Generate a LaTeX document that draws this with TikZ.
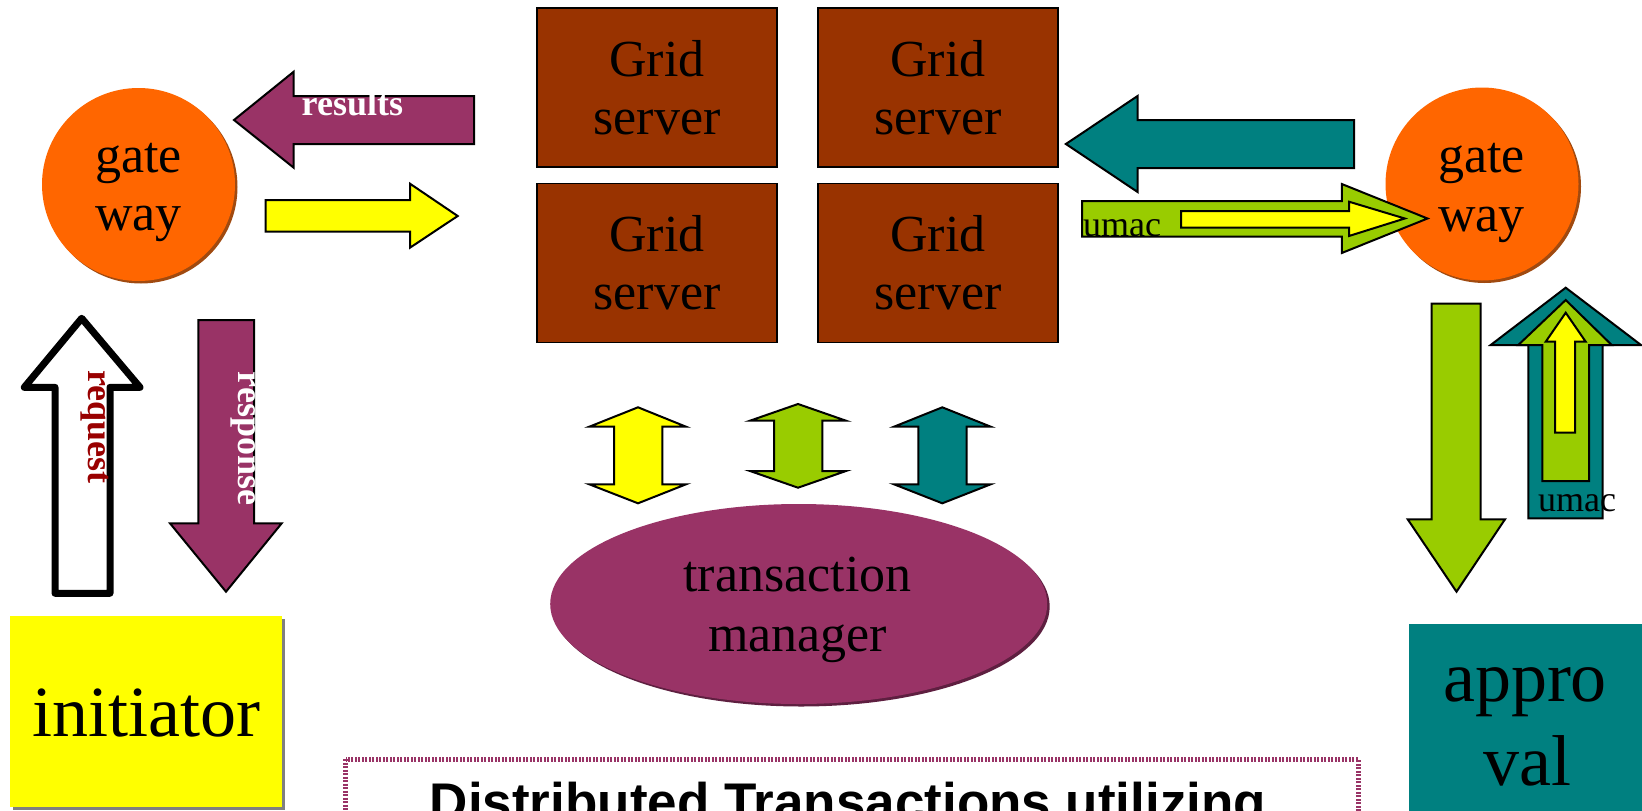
\documentclass[tikz,border=0pt]{standalone}
\usepackage{fontspec}
\setmainfont{Liberation Serif}
\newfontfamily\titlefont{Liberation Sans}
\usetikzlibrary{shapes.geometric,shadows}
\definecolor{gorange}{HTML}{FF6600}
\definecolor{gbrown}{HTML}{993300}
\definecolor{gpurple}{HTML}{993366}
\definecolor{gyellow}{HTML}{FFFF00}
\definecolor{ggreen}{HTML}{99CC00}
\definecolor{gteal}{HTML}{008080}
\definecolor{gdarkred}{HTML}{990000}
\definecolor{gshadowbrown}{HTML}{A04A10}
\definecolor{gshadowpurple}{HTML}{5E1F40}
\tikzset{
  blockarrow/.style={draw=black, line width=2pt, line join=miter},
  gridbox/.style={rectangle, draw=black, line width=1.5pt, fill=gbrown, minimum width=240pt, minimum height=159pt, inner sep=0pt, align=center, font=\fontsize{52}{58}\selectfont},
  gatecircle/.style={circle, fill=gorange, minimum size=193pt, inner sep=0pt, general shadow={fill=gshadowbrown, shadow xshift=2.5pt, shadow yshift=-2.5pt}},
  midtext/.style={anchor=base, inner sep=0pt, font=\fontsize{52}{58}\selectfont},
  bigtext/.style={anchor=base, inner sep=0pt, font=\fontsize{72}{83}\selectfont},
  smalltext/.style={anchor=base west, inner sep=0pt, font=\fontsize{36}{40}\selectfont},
  arrowlabel/.style={inner sep=0pt, font=\bfseries\fontsize{36}{40}\selectfont},
}
\begin{document}
\begin{tikzpicture}[x=1pt,y=-1pt]
\useasboundingbox (0,0) rectangle (1642,811);
\clip (0,0) rectangle (1642,811);

% grid servers
\node[gridbox] (g1) at (657,87.5) {Grid\\server};
\node[gridbox] (g2) at (938,87.5) {Grid\\server};
\node[gridbox] (g3) at (657,263) {Grid\\server};
\node[gridbox] (g4) at (938,263) {Grid\\server};

% gateways
\node[gatecircle] (gwL) at (138.5,184.5) {};
\node[midtext] (gwLa) at (138.5,172) {gate};
\node[midtext] (gwLb) at (138.5,230) {way};
\node[gatecircle] (gwR) at (1482,184) {};
\node[midtext] (gwRa) at (1481.5,172) {gate};
\node[midtext] (gwRb) at (1481.5,231) {way};

% results arrow
\draw[blockarrow, fill=gpurple] (474,96) -- (293.7,96) -- (293.7,71.7) -- (234,120) -- (293.7,167.7) -- (293.7,144) -- (474,144) -- cycle;
\node[arrowlabel, anchor=base west, text=white] (res) at (301.5,115.7) {results};

% yellow right arrow
\draw[blockarrow, fill=gyellow] (265.7,200) -- (410,200) -- (410,183.7) -- (457.7,216) -- (410,247.7) -- (410,231.7) -- (265.7,231.7) -- cycle;

% teal left arrow
\draw[blockarrow, fill=gteal] (1354,120) -- (1137.6,120) -- (1137.6,96) -- (1065.9,144) -- (1137.6,192) -- (1137.6,168) -- (1354,168) -- cycle;

% green right arrow with yellow inside
\draw[blockarrow, fill=ggreen] (1082,201) -- (1341.8,201) -- (1341.8,184) -- (1427.5,218.5) -- (1341.8,253) -- (1341.8,236.5) -- (1082,236.5) -- cycle;
\draw[blockarrow, fill=gyellow] (1181,211) -- (1349,211) -- (1349,201.7) -- (1404.8,218.5) -- (1349,236) -- (1349,227.7) -- (1181,227.7) -- cycle;
\node[smalltext] (umac1) at (1083,236) {umac};

% request arrow
\draw[draw=black, line width=7pt, line join=round, fill=white] (55,593.3) -- (55,387.3) -- (24.3,387.3) -- (81.7,318.3) -- (140,387.3) -- (110,387.3) -- (110,593.3) -- cycle;
\node[arrowlabel, rotate=-90, anchor=base west, text=gdarkred] (req) at (88.3,370) {request};

% response arrow
\draw[blockarrow, fill=gpurple] (198.3,320) -- (254,320) -- (254,523.3) -- (281.7,523.3) -- (226,591.7) -- (170,523.3) -- (198.3,523.3) -- cycle;
\node[arrowlabel, rotate=-90, anchor=base west, text=white] (resp) at (238.3,371.7) {response};

% right down green arrow
\draw[blockarrow, fill=ggreen] (1431.7,303.5) -- (1480.7,303.5) -- (1480.7,519.3) -- (1505,519.3) -- (1456.5,591.7) -- (1407.7,519.3) -- (1431.7,519.3) -- cycle;

% right up nested arrows
\draw[blockarrow, fill=gteal] (1528.3,518.3) -- (1528.3,345) -- (1490.7,345) -- (1565.7,287.7) -- (1641,345) -- (1602.7,345) -- (1602.7,518.3) -- cycle;
\draw[blockarrow, fill=ggreen] (1542.3,481) -- (1542.3,345) -- (1518.3,345) -- (1565.7,300) -- (1611.7,345) -- (1589,345) -- (1589,481) -- cycle;
\draw[blockarrow, fill=gyellow] (1555,432.7) -- (1555,341.7) -- (1545.7,341.7) -- (1565.7,312.7) -- (1585.7,341.7) -- (1575,341.7) -- (1575,432.7) -- cycle;
\node[smalltext] (umac2) at (1538,511.7) {umac};

% double arrows
\draw[blockarrow, fill=gyellow] (638,407.3) -- (686,426.7) -- (662.3,426.7) -- (662.3,484.3) -- (686,484.3) -- (638,503.3) -- (589.3,484.3) -- (614,484.3) -- (614,426.7) -- (589.3,426.7) -- cycle;
\draw[blockarrow, fill=ggreen] (798,404) -- (846,420.7) -- (822.3,420.7) -- (822.3,471) -- (846,471) -- (798,487.7) -- (750,471) -- (774,471) -- (774,420.7) -- (750,420.7) -- cycle;
\draw[blockarrow, fill=gteal] (942.3,407.3) -- (990.7,426.7) -- (966.7,426.7) -- (966.7,484.3) -- (990.7,484.3) -- (942.3,503.3) -- (894,484.3) -- (918.3,484.3) -- (918.3,426.7) -- (894,426.7) -- cycle;

% transaction manager
\node[ellipse, fill=gpurple, minimum width=497pt, minimum height=200pt, inner sep=0pt, general shadow={fill=gshadowpurple, shadow xshift=2.5pt, shadow yshift=-2.5pt}] (tm) at (798.7,604) {};
\node[midtext] (tma) at (797.5,591.7) {transaction};
\node[midtext] (tmb) at (797.5,651.7) {manager};

% initiator
\node[rectangle, fill=gyellow, minimum width=271.7pt, minimum height=190.7pt, inner sep=0pt, general shadow={fill=gray, shadow xshift=3pt, shadow yshift=-3pt}] (init) at (145.85,711.35) {};
\node[bigtext] (initt) at (146.7,736.7) {initiator};

% approval
\node[rectangle, fill=gteal, minimum width=240pt, minimum height=200pt, inner sep=0pt, anchor=north west] (appr) at (1408.3,624) {};
\node[bigtext] (appra) at (1525,701.7) {appro};
\node[bigtext] (apprb) at (1527,785) {val};

% title box
\draw[draw=gpurple, line width=5pt, dash pattern=on 2pt off 1.5pt] (345.6,759) rectangle (1358,860);
\node[anchor=base, inner sep=0pt, font=\titlefont\bfseries\fontsize{53}{60}\selectfont] (title) at (848,820) {Distributed Transactions utilizing};
\end{tikzpicture}
\end{document}
